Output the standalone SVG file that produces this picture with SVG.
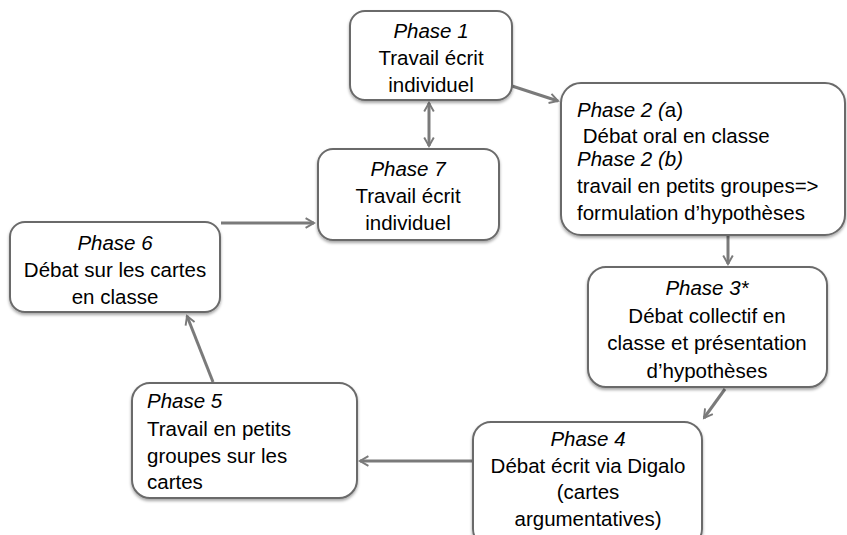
<svg xmlns="http://www.w3.org/2000/svg" width="847" height="535" viewBox="0 0 847 535">
<defs>
<style>
.box{fill:#fff;stroke:#6b6b6b;stroke-width:2;filter:url(#sh)}
.t{font-family:"Liberation Sans",Arial,sans-serif;font-size:20.5px;fill:#000}
.c{text-anchor:middle}
.i{font-style:italic}
.con{stroke:#7a7a7a;stroke-width:3;fill:none}
</style>
<filter id="sh" x="-10%" y="-10%" width="120%" height="130%">
<feDropShadow dx="0" dy="2" stdDeviation="1.5" flood-color="#000" flood-opacity="0.35"/>
</filter>
<marker id="ah" viewBox="0 0 10 10" refX="8" refY="5" markerWidth="4" markerHeight="4" orient="auto-start-reverse" markerUnits="strokeWidth">
<path d="M1,1 L8,5 L1,9" fill="none" stroke="#7a7a7a" stroke-width="1.6"/>
</marker>
</defs>
<g id="connectors">
<line class="con" x1="512" y1="86" x2="558" y2="101" marker-end="url(#ah)"/>
<line class="con" x1="429" y1="103" x2="429" y2="146" marker-start="url(#ah)" marker-end="url(#ah)"/>
<line class="con" x1="728" y1="236" x2="728" y2="264" marker-end="url(#ah)"/>
<line class="con" x1="725" y1="389" x2="704" y2="418" marker-end="url(#ah)"/>
<line class="con" x1="473" y1="461" x2="360" y2="461" marker-end="url(#ah)"/>
<line class="con" x1="213" y1="382" x2="187" y2="316" marker-end="url(#ah)"/>
<line class="con" x1="221" y1="223" x2="314" y2="223" marker-end="url(#ah)"/>
</g>
<g id="phase1">
<rect class="box" x="350" y="11" width="162" height="89" rx="15"/>
<text class="t c" x="431" y="38"><tspan class="i">Phase 1</tspan><tspan x="431" dy="27">Travail écrit</tspan><tspan x="431" dy="27">individuel</tspan></text>
</g>
<g id="phase2">
<rect class="box" x="561" y="83" width="284" height="152" rx="20"/>
<text class="t" x="577" y="117"><tspan class="i">Phase 2 (</tspan>a)</text>
<text class="t" x="577" y="143">&#160;Débat oral en classe</text>
<text class="t i" x="577" y="166">Phase 2 (b)</text>
<text class="t" x="577" y="193">travail en petits groupes=&gt;</text>
<text class="t" x="577" y="220">formulation d’hypothèses</text>
</g>
<g id="phase3">
<rect class="box" x="588" y="267" width="239" height="120" rx="18"/>
<text class="t c" x="707" y="295"><tspan class="i">Phase 3*</tspan><tspan x="707" dy="27.5">Débat collectif en</tspan><tspan x="707" dy="27.5">classe et présentation</tspan><tspan x="707" dy="27.5">d’hypothèses</tspan></text>
</g>
<g id="phase4">
<rect class="box" x="473" y="422" width="229" height="125" rx="18"/>
<text class="t c" x="588" y="446"><tspan class="i">Phase 4</tspan><tspan x="588" dy="26.5">Débat écrit via Digalo</tspan><tspan x="588" dy="26.5">(cartes</tspan><tspan x="588" dy="26.5">argumentatives)</tspan></text>
</g>
<g id="phase5">
<rect class="box" x="132" y="383" width="225" height="115" rx="18"/>
<text class="t" x="147" y="408"><tspan class="i">Phase 5</tspan><tspan x="147" dy="27.5">Travail en petits</tspan><tspan x="147" dy="27.5">groupes sur les</tspan><tspan x="147" dy="26">cartes</tspan></text>
</g>
<g id="phase6">
<rect class="box" x="10" y="222" width="210" height="90" rx="15"/>
<text class="t c" x="115" y="250"><tspan class="i">Phase 6</tspan><tspan x="115" dy="27">Débat sur les cartes</tspan><tspan x="115" dy="27">en classe</tspan></text>
</g>
<g id="phase7">
<rect class="box" x="318" y="149" width="181" height="91" rx="15"/>
<text class="t c" x="408" y="176"><tspan class="i">Phase 7</tspan><tspan x="408" dy="27">Travail écrit</tspan><tspan x="408" dy="27">individuel</tspan></text>
</g>
</svg>
